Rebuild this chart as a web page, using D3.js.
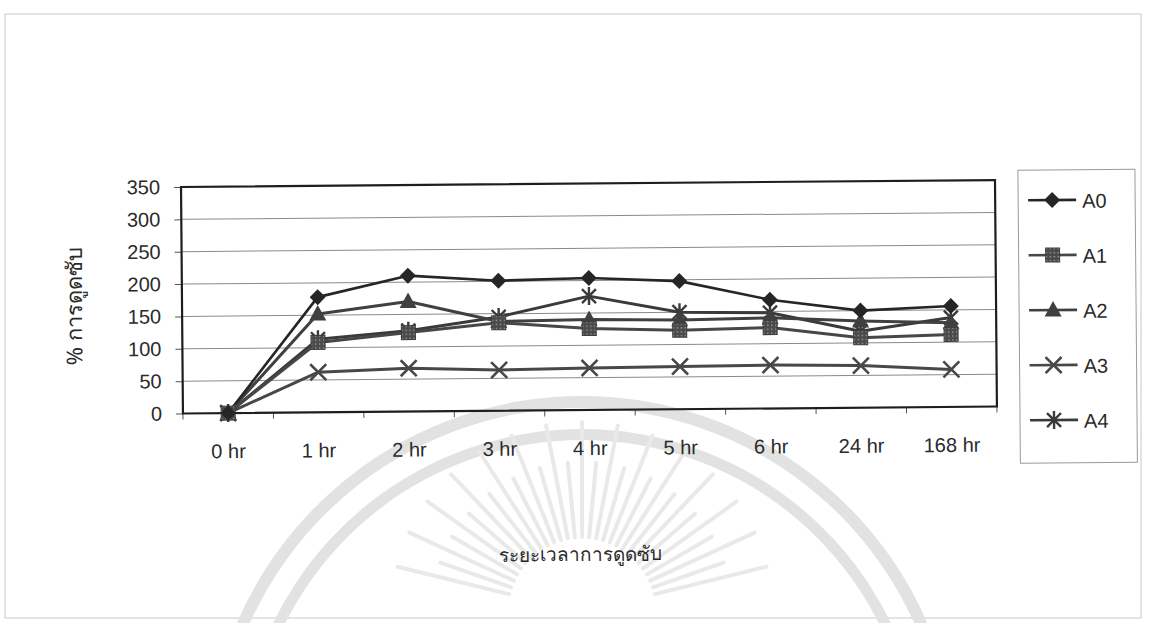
<!DOCTYPE html>
<html>
<head>
<meta charset="utf-8">
<script src="https://cdn.jsdelivr.net/npm/d3@7"></script>
<style>
  html, body { margin: 0; padding: 0; background: #fff; }
  svg { display: block; font-family: "Liberation Sans", Arial, sans-serif; }
</style>
</head>
<body>
<svg id="chart" width="1150" height="623"></svg>
<script>
// Absorption time points
const categories = ["0 hr", "1 hr", "2 hr", "3 hr", "4 hr", "5 hr", "6 hr", "24 hr", "168 hr"];
const seriesNames = ["A0", "A1", "A2", "A3", "A4"];
// % absorption per formulation
const a0 = [0, 178, 210, 201, 204, 198, 168, 150, 156];
const a1 = [0, 108, 122, 136, 126, 122, 125, 108, 112];
const a2 = [0, 152, 170, 138, 140, 138, 140, 134, 130];
const a3 = [0, 62, 67, 63, 65, 66, 67, 65, 58];
const a4 = [0, 113, 125, 145, 176, 150, 148, 118, 138];
const yTicks = [0, 50, 100, 150, 200, 250, 300, 350];
const yTitle = "% การดูดซับ";
const xTitle = "ระยะเวลาการดูดซับ";

const seriesValues = [a0, a1, a2, a3, a4];
const seriesShapes = ["diamond", "square", "triangle", "cross", "star"];
const seriesColors = ["#262626", "#474747", "#404040", "#484848", "#3a3a3a"];

const svg = d3.select("#chart");
const labelFont = "'Liberation Sans', Arial, sans-serif";
const thaiFont = "'Noto Sans', 'Liberation Sans', sans-serif";
const textColor = "#2a2a2a";

// page frame
svg.append("rect").attr("x", 5).attr("y", 14).attr("width", 1136).attr("height", 604)
  .attr("fill", "none").attr("stroke", "#c8c8c8").attr("stroke-width", 1);

// faint emblem in the background: two arch bands and a burst of rays
const wm = svg.append("g");
const arcGen = d3.arc();
[[364, 376], [332, 343]].forEach(([r0, r1]) => {
  wm.append("path")
    .attr("transform", "translate(582,772)")
    .attr("d", arcGen({innerRadius: r0, outerRadius: r1, startAngle: -Math.PI * 0.42, endAngle: Math.PI * 0.42}))
    .attr("fill", "#e2e2e2");
});
d3.range(-14, 15).forEach(i => {
  const a = i * 0.095;
  const r2 = 150 + (i % 2 ? 0 : 40);
  wm.append("line")
    .attr("x1", 582 + Math.sin(a) * 75).attr("y1", 612 - Math.cos(a) * 75)
    .attr("x2", 582 + Math.sin(a) * r2).attr("y2", 612 - Math.cos(a) * r2)
    .attr("stroke", "#e9e9e9").attr("stroke-width", 4).attr("stroke-linecap", "round");
});

const g = svg.append("g").attr("transform", "rotate(-0.49, 590, 300)");

const plot = { left: 182, right: 996, top: 183.5, bottom: 410 };

const x = d3.scaleBand().domain(categories).range([plot.left, plot.right]);
const y = d3.scaleLinear().domain([0, 350]).range([plot.bottom, plot.top]);
const cx = c => x(c) + x.bandwidth() / 2;

// gridlines
g.append("g").selectAll("line").data(yTicks.filter(t => t > 0 && t < 350)).join("line")
  .attr("x1", plot.left).attr("x2", plot.right)
  .attr("y1", d => y(d)).attr("y2", d => y(d))
  .attr("stroke", "#8a8a8a").attr("stroke-width", 1);

// y axis
const yAxis = g.append("g").attr("transform", `translate(${plot.left},0)`)
  .call(d3.axisLeft(y).tickValues(yTicks).tickSize(7).tickPadding(14));
yAxis.select(".domain").remove();
yAxis.selectAll(".tick line").attr("stroke", "#555");
yAxis.selectAll("text").attr("font-size", 20).attr("fill", textColor)
  .attr("font-family", labelFont);

// x axis: ticks at category boundaries, labels lower down
const xb = g.append("g");
xb.selectAll("line").data(categories.concat(["end"])).join("line")
  .attr("x1", (d, i) => plot.left + i * x.bandwidth())
  .attr("x2", (d, i) => plot.left + i * x.bandwidth())
  .attr("y1", plot.bottom).attr("y2", plot.bottom + 6)
  .attr("stroke", "#555");
xb.selectAll("text").data(categories).join("text")
  .attr("x", d => cx(d)).attr("y", 455)
  .attr("text-anchor", "middle").attr("font-size", 20).attr("fill", textColor)
  .attr("font-family", labelFont)
  .text(d => d);

// plot frame
g.append("rect").attr("x", plot.left).attr("y", plot.top)
  .attr("width", plot.right - plot.left).attr("height", plot.bottom - plot.top)
  .attr("fill", "none").attr("stroke", "#1e1e1e").attr("stroke-width", 2.2);

// speckled fill for square markers
const defs = svg.append("defs");
const pat = defs.append("pattern").attr("id", "speck").attr("patternUnits", "userSpaceOnUse")
  .attr("width", 4).attr("height", 4);
pat.append("rect").attr("width", 4).attr("height", 4).attr("fill", "#4a4a4a");
pat.append("rect").attr("x", 1).attr("y", 1).attr("width", 1.3).attr("height", 1.3).attr("fill", "#a8a8a8");

function drawMarker(sel, shape, color) {
  if (shape === "diamond") {
    sel.append("path").attr("d", "M0,-8L8,0L0,8L-8,0Z").attr("fill", color);
  } else if (shape === "square") {
    sel.append("rect").attr("x", -7).attr("y", -7).attr("width", 14).attr("height", 14)
      .attr("fill", "url(#speck)").attr("stroke", "#3e3e3e").attr("stroke-width", 1);
  } else if (shape === "triangle") {
    sel.append("path").attr("d", "M0,-9L8.5,6.5L-8.5,6.5Z").attr("fill", color);
  } else if (shape === "cross") {
    sel.append("path").attr("d", "M-8,-8L8,8M-8,8L8,-8").attr("stroke", color).attr("stroke-width", 2.6);
  } else {
    sel.append("path").attr("d", "M-7,-7L7,7M-7,7L7,-7M0,-9V9").attr("stroke", color).attr("stroke-width", 2.4);
  }
}

const line = d3.line().x((d, i) => cx(categories[i])).y(d => y(d));

// series drawn back to front
const order = [3, 4, 2, 1, 0];
order.forEach(si => {
  g.append("path").datum(seriesValues[si])
    .attr("d", line).attr("fill", "none")
    .attr("stroke", seriesColors[si]).attr("stroke-width", si === 0 ? 2.6 : 3)
    .attr("stroke-linejoin", "round");
});
order.forEach(si => {
  seriesValues[si].forEach((v, i) => {
    const m = g.append("g").attr("transform", `translate(${cx(categories[i])},${y(v)})`);
    drawMarker(m, seriesShapes[si], seriesColors[si]);
  });
});

// axis titles
g.append("text").attr("transform", "translate(82,302) rotate(-90)")
  .attr("text-anchor", "middle").attr("font-size", 22).attr("fill", textColor)
  .attr("font-family", thaiFont)
  .text(yTitle);
g.append("text").attr("x", 578).attr("y", 561)
  .attr("text-anchor", "middle").attr("font-size", 19).attr("fill", textColor)
  .attr("font-family", thaiFont)
  .text(xTitle);

// legend
const lg = g.append("g").attr("transform", "translate(1019,174)");
lg.append("rect").attr("width", 117).attr("height", 293)
  .attr("fill", "#fff").attr("stroke", "#9a9a9a").attr("stroke-width", 1);
seriesNames.forEach((name, i) => {
  const yy = 30 + i * 55;
  const it = lg.append("g").attr("transform", `translate(0,${yy})`);
  it.append("line").attr("x1", 10).attr("x2", 58).attr("y1", 0).attr("y2", 0)
    .attr("stroke", seriesColors[i]).attr("stroke-width", 2.6);
  const m = it.append("g").attr("transform", "translate(34,0)");
  drawMarker(m, seriesShapes[i], seriesColors[i]);
  it.append("text").attr("x", 64).attr("y", 8).attr("font-size", 20).attr("fill", textColor)
    .attr("font-family", labelFont).text(name);
});
</script>
</body>
</html>
